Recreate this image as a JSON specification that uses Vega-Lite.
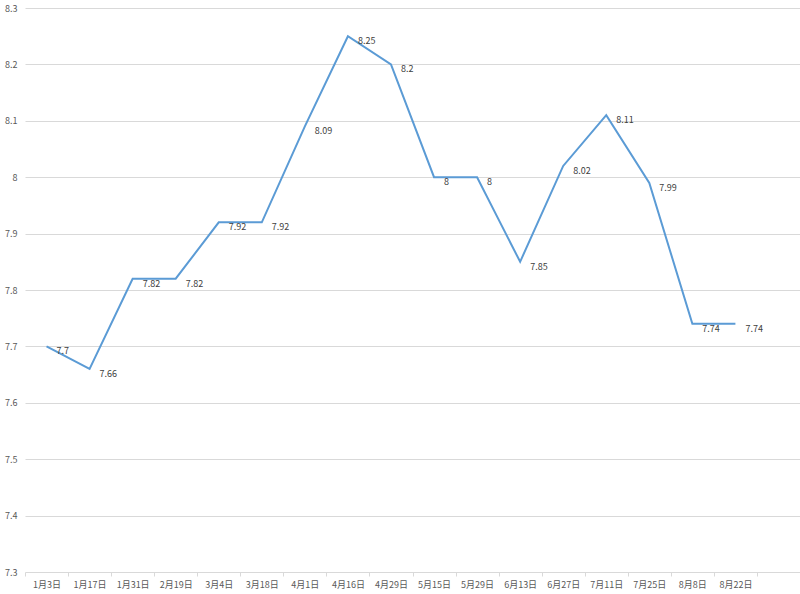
{
  "$schema": "https://vega.github.io/schema/vega-lite/v6.json",
  "autosize": {"type": "none"},
  "padding": {"left": 25, "top": 8, "right": 0, "bottom": 22},
  "width": 775,
  "height": 564,
  "background": "white",
  "config": {
    "view": {"stroke": null},
    "font": "Noto Sans CJK SC"
  },
  "data": {
    "values": [
      {"date": "1月3日", "value": 7.7},
      {"date": "1月17日", "value": 7.66},
      {"date": "1月31日", "value": 7.82},
      {"date": "2月19日", "value": 7.82},
      {"date": "3月4日", "value": 7.92},
      {"date": "3月18日", "value": 7.92},
      {"date": "4月1日", "value": 8.09},
      {"date": "4月16日", "value": 8.25},
      {"date": "4月29日", "value": 8.2},
      {"date": "5月15日", "value": 8},
      {"date": "5月29日", "value": 8},
      {"date": "6月13日", "value": 7.85},
      {"date": "6月27日", "value": 8.02},
      {"date": "7月11日", "value": 8.11},
      {"date": "7月25日", "value": 7.99},
      {"date": "8月8日", "value": 7.74},
      {"date": "8月22日", "value": 7.74}
    ]
  },
  "encoding": {
    "x": {
      "field": "date",
      "type": "ordinal",
      "sort": null,
      "scale": {"type": "band", "paddingInner": 0, "paddingOuter": 0.5, "align": 0},
      "axis": {
        "title": null,
        "domain": false,
        "tickBand": "extent",
        "tickColor": "#d9d9d9",
        "tickSize": 4,
        "labelAngle": 0,
        "labelFontSize": 9,
        "labelColor": "#595959",
        "labelPadding": 4
      }
    },
    "y": {
      "field": "value",
      "type": "quantitative",
      "scale": {"domain": [7.3, 8.3], "nice": false, "zero": false},
      "axis": {
        "title": null,
        "domain": false,
        "ticks": false,
        "values": [7.3, 7.4, 7.5, 7.6, 7.7, 7.8, 7.9, 8, 8.1, 8.2, 8.3],
        "labelExpr": "toString(round(datum.value * 10) / 10)",
        "gridColor": "#d9d9d9",
        "gridWidth": 1,
        "labelFontSize": 9,
        "labelColor": "#595959",
        "labelPadding": 8
      }
    }
  },
  "layer": [
    {
      "mark": {"type": "line", "color": "#5b9bd5", "strokeWidth": 2}
    },
    {
      "mark": {"type": "text", "align": "left", "dx": 10, "dy": 5, "fontSize": 9, "color": "#404040"},
      "encoding": {
        "text": {"field": "value", "type": "nominal"}
      }
    }
  ]
}
